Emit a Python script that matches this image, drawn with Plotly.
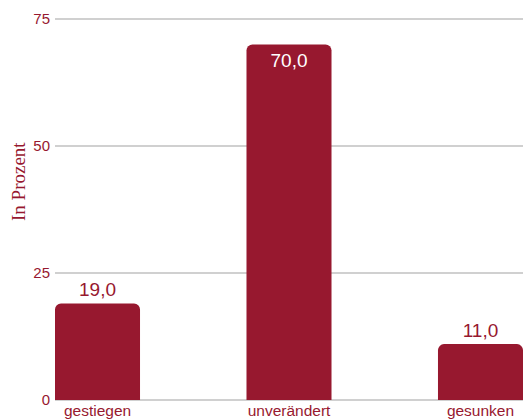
import plotly.graph_objects as go

categories = ["gestiegen", "unverändert", "gesunken"]
values = [19.0, 70.0, 11.0]
y_ticks = [0, 25, 50, 75]

red = "#97182F"
positions = list(range(len(categories)))
bar_w = 0.444

fig = go.Figure(go.Bar(
    x=positions, y=values, width=bar_w,
    marker=dict(color=red, cornerradius=6, line=dict(width=0)),
    texttemplate="%{y:.1f}",
    textposition=["outside", "inside", "outside"],
    insidetextanchor="end",
    textfont=dict(family="Liberation Sans, Arial, sans-serif", size=19),
    insidetextfont=dict(color="white", size=19),
    outsidetextfont=dict(color=red, size=19),
    cliponaxis=False,
))

fig.update_layout(
    width=525, height=419,
    margin=dict(l=55, r=2, t=17, b=19),
    paper_bgcolor="white", plot_bgcolor="white",
    separators=",.",
    showlegend=False,
    font=dict(family="Liberation Sans, Arial, sans-serif", color=red, size=14),
    xaxis=dict(
        range=[-bar_w / 2, positions[-1] + bar_w / 2],
        tickvals=positions, ticktext=categories,
        showgrid=False, zeroline=False, showline=False, ticks="",
        tickfont=dict(size=15.5, color=red), ticklen=0, automargin=False,
        ticklabelstandoff=-1,
    ),
    yaxis=dict(
        range=[0, 75.4], tickvals=y_ticks,
        showgrid=True, gridcolor="#d0d0d0", gridwidth=1.5,
        zeroline=True, zerolinecolor="#d0d0d0", zerolinewidth=1.5,
        showline=False, ticks="", ticklen=0, automargin=False,
        ticklabelstandoff=4,
        tickfont=dict(size=15, color=red),
    ),
    annotations=[dict(
        text="In Prozent", textangle=-90,
        xref="paper", yref="paper",
        x=(18 - 55) / 468, y=(400 - 182) / 383,
        xanchor="center", yanchor="middle", showarrow=False,
        font=dict(family="Liberation Serif, Times New Roman, serif", size=19, color=red),
    )],
)

fig.write_html("out.html")
